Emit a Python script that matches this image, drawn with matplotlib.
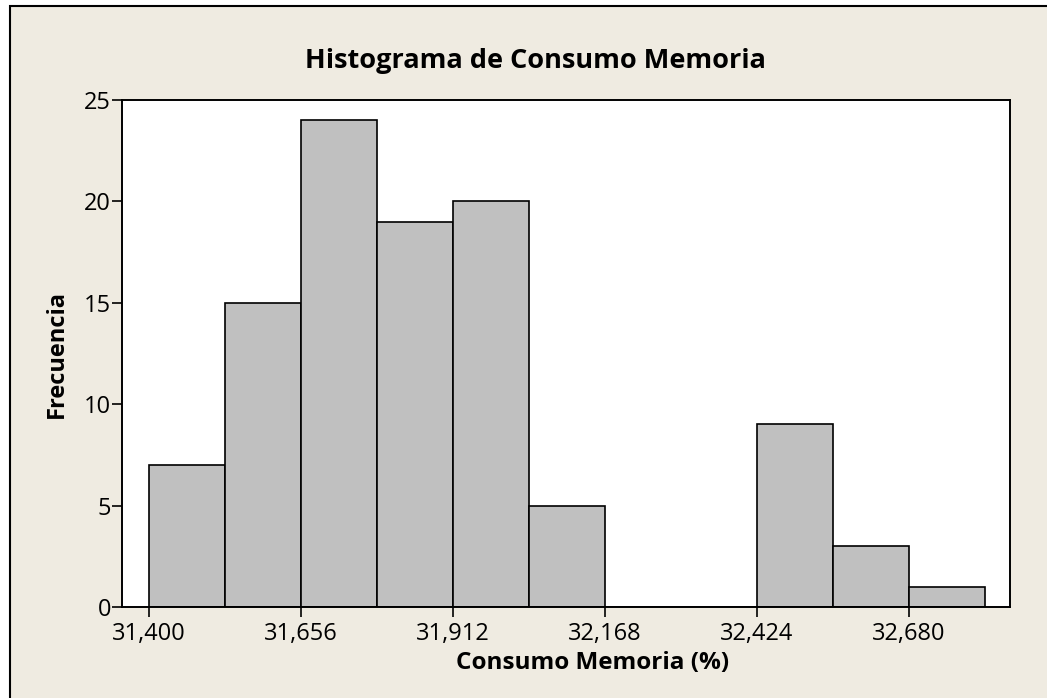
import numpy as np
import matplotlib
matplotlib.use("Agg")
import matplotlib.pyplot as plt
from matplotlib.patches import Rectangle

# datos del histograma (lectura del grafico)
bin_start = 31400
bin_width = 128
counts = [7, 15, 24, 19, 20, 5, 0, 0, 9, 3, 1]
xticks = [31400, 31656, 31912, 32168, 32424, 32680]
yticks = [0, 5, 10, 15, 20, 25]

edges = bin_start + bin_width * np.arange(len(counts))

plt.rcParams['font.family'] = ['Open Sans', 'DejaVu Sans']

bg = "#efebe1"
fig = plt.figure(figsize=(10.47, 6.98), dpi=100, facecolor="white")

# marco beige recortado (solo borde superior e izquierdo visibles)
fig.patches.append(Rectangle((10 / 1047, -0.1), 1.2, 0.1 + (698 - 6) / 698,
                             transform=fig.transFigure, facecolor=bg,
                             edgecolor="black", linewidth=1.5, zorder=-10))

ax = fig.add_axes([122 / 1047, (698 - 607) / 698, 888 / 1047, 507 / 698])
ax.set_facecolor("white")
ax.bar(edges, counts, width=bin_width, align="edge", color="#c0c0c0",
       edgecolor="black", linewidth=1.2)

ax.set_xlim(31354.5, 32850)
ax.set_ylim(0, 25)
ax.set_xticks(xticks)
ax.set_xticklabels([f"{v:,}" for v in xticks])
ax.set_yticks(yticks)
for s in ax.spines.values():
    s.set_linewidth(1.4)
ax.tick_params(direction="out", length=7, width=1.2, labelsize=17)
ax.tick_params(axis="x", pad=3.5)
ax.tick_params(axis="y", pad=1)

ax.set_title("Histograma de Consumo Memoria", fontsize=19.5, fontweight="bold",
             pad=23, x=0.466)
ax.set_xlabel("Consumo Memoria (%)", fontsize=17.5, fontweight="bold", labelpad=4)
ax.xaxis.label.set_x(0.530)
ax.set_ylabel("Frecuencia", fontsize=17, fontweight="bold", labelpad=11)

fig.savefig("out.png", dpi=100, facecolor=fig.get_facecolor())
